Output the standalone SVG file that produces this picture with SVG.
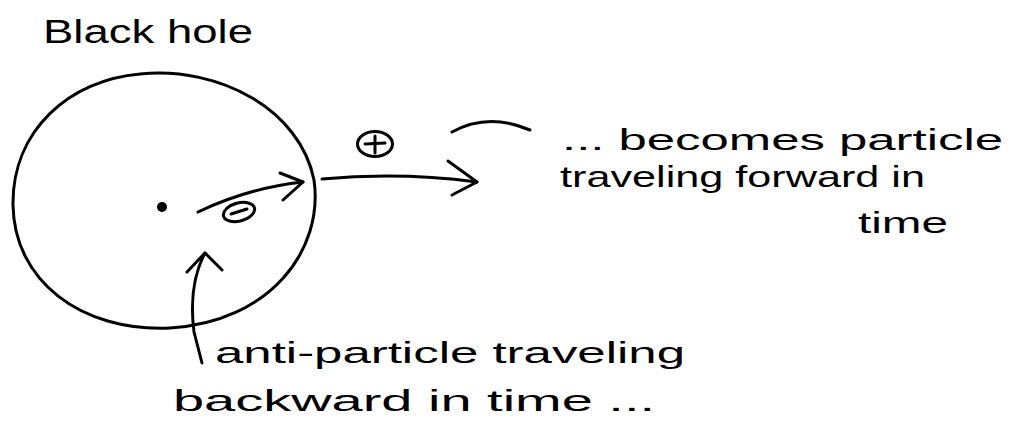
<svg xmlns="http://www.w3.org/2000/svg" width="1014" height="423" viewBox="0 0 1014 423">
  <style>
    .ink { fill: none; stroke: #000; stroke-width: 3; stroke-linecap: round; stroke-linejoin: round; }
    .txt { font-family: "Liberation Sans", "DejaVu Sans", sans-serif; fill: #000; font-size: 29px; }
    .title { font-size: 33px; }
  </style>
  <rect width="1014" height="423" fill="#fff"/>

  <g id="black-hole">
    <path class="ink" d="M140,74 C220,66 300,110 314,180 C324,250 270,322 170,328 C80,332 14,280 13,205 C12,130 70,80 140,74"/>
    <circle cx="162" cy="207" r="5" fill="#000"/>
    <text class="txt title" x="43" y="43" textLength="210" lengthAdjust="spacingAndGlyphs">Black hole</text>
  </g>

  <g id="antiparticle">
    <ellipse class="ink" cx="239" cy="212" rx="16" ry="9" transform="rotate(-15 239 212)"/>
    <line class="ink" x1="231" y1="214" x2="247" y2="209"/>
  </g>

  <g id="particle">
    <ellipse class="ink" cx="375" cy="144" rx="17.5" ry="12.5"/>
    <line class="ink" x1="365" y1="144" x2="385" y2="143"/>
    <line class="ink" x1="375" y1="136" x2="375" y2="153"/>
  </g>

  <g id="connectors">
    <path class="ink" d="M198,212 Q248,188 303,182"/>
    <polyline class="ink" points="280,173 303,182 283,200"/>
    <path class="ink" d="M322,179 Q400,172 477,182"/>
    <polyline class="ink" points="448,161 477,182 452,195"/>
    <path class="ink" d="M202,363 L194,332 Q188,285 205,253"/>
    <polyline class="ink" points="187,272 205,253 222,270"/>
    <path class="ink" d="M452,132 Q488,112 530,130"/>
  </g>

  <g id="label-particle">
    <text class="txt" x="562" y="150" textLength="441" lengthAdjust="spacingAndGlyphs">... becomes particle</text>
    <text class="txt" x="560" y="187" textLength="365" lengthAdjust="spacingAndGlyphs">traveling forward in</text>
    <text class="txt" x="858" y="233" textLength="90" lengthAdjust="spacingAndGlyphs">time</text>
  </g>

  <g id="label-antiparticle">
    <text class="txt" x="215" y="363" textLength="470" lengthAdjust="spacingAndGlyphs">anti-particle traveling</text>
    <text class="txt" x="173" y="411" textLength="482" lengthAdjust="spacingAndGlyphs">backward in time ...</text>
  </g>
</svg>
